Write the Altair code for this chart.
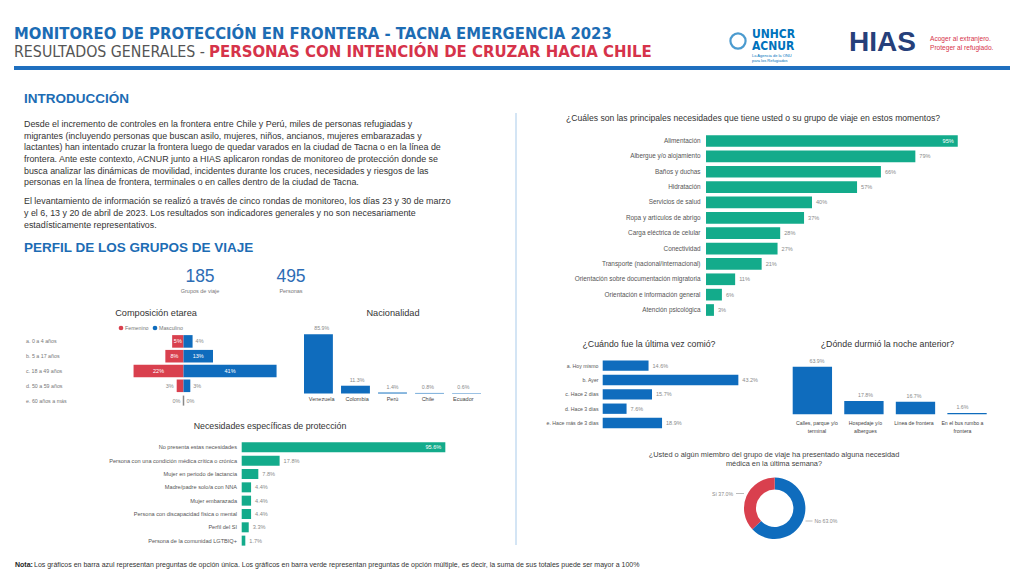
import altair as alt
import pandas as pd

# ---------------- data ----------------
kpi_groups = 185
kpi_persons = 495

age_cats = ["a. 0 a 4 años", "b. 5 a 17 años", "c. 18 a 49 años", "d. 50 a 59 años", "e. 60 años a más"]
age_fem = [5, 8, 22, 3, 0]
age_mas = [4, 13, 41, 3, 0]

nat_cats = ["Venezuela", "Colombia", "Perú", "Chile", "Ecuador"]
nat_vals = [85.9, 11.3, 1.4, 0.8, 0.6]

prot_cats = ["No presenta estas necesidades", "Persona con una condición médica crítica o crónica",
             "Mujer en periodo de lactancia", "Madre/padre solo/a con NNA", "Mujer embarazada",
             "Persona con discapacidad física o mental", "Perfil del SI", "Persona de la comunidad LGTBIQ+"]
prot_vals = [95.6, 17.8, 7.8, 4.4, 4.4, 4.4, 3.3, 1.7]

need_cats = ["Alimentación", "Albergue y/o alojamiento", "Baños y duchas", "Hidratación",
             "Servicios de salud", "Ropa y artículos de abrigo", "Carga eléctrica de celular",
             "Conectividad", "Transporte (nacional/internacional)",
             "Orientación sobre documentación migratoria", "Orientación e información general",
             "Atención psicológica"]
need_vals = [95, 79, 66, 57, 40, 37, 28, 27, 21, 11, 6, 3]

eat_cats = ["a. Hoy mismo", "b. Ayer", "c. Hace 2 días", "d. Hace 3 días", "e. Hace más de 3 días"]
eat_vals = [14.6, 43.2, 15.7, 7.6, 18.9]

sleep_cats = ["Calles, parque y/o terminal", "Hospedaje y/o albergues", "Línea de frontera",
              "En el bus rumbo a frontera"]
sleep_disp = ["Calles, parque y/o\nterminal", "Hospedaje y/o\nalbergues", "Línea de frontera",
              "En el bus rumbo a\nfrontera"]
sleep_vals = [63.9, 17.8, 16.7, 1.6]

med_cats = ["No", "Sí"]
med_vals = [63.0, 37.0]

intro_p1 = ("Desde el incremento de controles en la frontera entre Chile y Perú, miles de personas refugiadas y\n"
            "migrantes (incluyendo personas que buscan asilo, mujeres, niños, ancianos, mujeres embarazadas y\n"
            "lactantes) han intentado cruzar la frontera luego de quedar varados en la ciudad de Tacna o en la línea de\n"
            "frontera. Ante este contexto, ACNUR junto a HIAS aplicaron rondas de monitoreo de protección donde se\n"
            "busca analizar las dinámicas de movilidad, incidentes durante los cruces, necesidades y riesgos de las\n"
            "personas en la línea de frontera, terminales o en calles dentro de la ciudad de Tacna.")
intro_p2 = ("El levantamiento de información se realizó a través de cinco rondas de monitoreo, los días 23 y 30 de marzo\n"
            "y el 6, 13 y 20 de abril de 2023. Los resultados son indicadores generales y no son necesariamente\n"
            "estadísticamente representativos.")

# ---------------- style ----------------
OFF = 8
def X(v):
    return v - OFF
def Y(v):
    return v - OFF

BLUE = "#0f6cbd"
GREEN = "#13ab8b"
RED = "#d9404e"
TBLUE = "#1c6cb4"
FONT = "Liberation Sans, Arial, sans-serif"
NARROW = "Liberation Sans Narrow, Arial Narrow, DejaVu Sans Condensed, sans-serif"

dummy = pd.DataFrame({"d": [0]})
layers = []


def text(s, x, y, size, color="#333333", align="left", weight="normal", font=FONT, baseline="middle", **kw):
    layers.append(
        alt.Chart(dummy).mark_text(text=s, align=align, baseline=baseline, fontSize=size, color=color,
                                   fontWeight=weight, font=font, **kw)
        .encode(x=alt.value(X(x)), y=alt.value(Y(y)))
    )


def rule(x1, y1, x2, y2, color, width):
    layers.append(
        alt.Chart(dummy).mark_rule(color=color, strokeWidth=width)
        .encode(x=alt.value(X(x1)), x2=alt.value(X(x2)), y=alt.value(Y(y1)), y2=alt.value(Y(y2)))
    )


def hbar(cats, vals, labels, x0, ppp, ytop, ybot, pad, color, lab_x, lab_size, val_size, inside_min):
    df = pd.DataFrame({"c": cats, "v": vals, "l": labels})
    ysc = alt.Scale(domain=cats, range=[Y(ytop), Y(ybot)], paddingInner=pad, paddingOuter=pad / 2)
    yenc = alt.Y("c:N", sort=cats, scale=ysc, axis=None)
    xsc = alt.Scale(domain=[0, 100], range=[X(x0), X(x0 + 100 * ppp)], nice=False)
    xenc = alt.X("v:Q", scale=xsc, axis=None)
    base = alt.Chart(df)
    layers.append(base.mark_bar(color=color).encode(x=xenc, y=yenc))
    layers.append(base.mark_text(align="right", baseline="middle", fontSize=lab_size, color="#555555", font=FONT)
                  .encode(x=alt.value(X(lab_x)), y=yenc, text="c:N"))
    layers.append(base.transform_filter(alt.datum.v < inside_min)
                  .mark_text(align="left", baseline="middle", dx=4, fontSize=val_size, color="#8a8a8a", font=FONT)
                  .encode(x=xenc, y=yenc, text="l:N"))
    layers.append(base.transform_filter(alt.datum.v >= inside_min)
                  .mark_text(align="right", baseline="middle", dx=-4, fontSize=val_size, color="white", font=FONT)
                  .encode(x=xenc, y=yenc, text="l:N"))


def vbar(cats, vals, labels, disp, xl, xr, pad, ybase, ppp, color, val_size, cat_size, cat_y):
    df = pd.DataFrame({"c": cats, "v": vals, "l": labels, "t": disp})
    xsc = alt.Scale(domain=cats, range=[X(xl), X(xr)], paddingInner=pad, paddingOuter=0)
    xenc = alt.X("c:N", sort=cats, scale=xsc, axis=None)
    ysc = alt.Scale(domain=[0, 100], range=[Y(ybase), Y(ybase - 100 * ppp)], nice=False)
    yenc = alt.Y("v:Q", scale=ysc, axis=None)
    base = alt.Chart(df)
    layers.append(base.mark_bar(color=color).encode(x=xenc, y=yenc))
    layers.append(base.mark_text(baseline="bottom", dy=-3, fontSize=val_size, color="#8a8a8a", font=FONT)
                  .encode(x=xenc, y=yenc, text="l:N"))
    layers.append(base.mark_text(baseline="top", fontSize=cat_size, color="#444444", font=FONT,
                                 lineBreak="\n", lineHeight=cat_size + 3)
                  .encode(x=xenc, y=alt.value(Y(cat_y)), text="t:N"))


# ---------------- header ----------------
text("MONITOREO DE PROTECCIÓN EN FRONTERA - TACNA EMERGENCIA 2023", 14, 33.5, 16.5, TBLUE, weight="bold", font=NARROW)
text("RESULTADOS GENERALES -", 14, 51.5, 15.8, "#555555", font=NARROW)
text("PERSONAS CON INTENCIÓN DE CRUZAR HACIA CHILE", 209, 51.5, 16.6, "#d6334a", weight="bold", font=NARROW)

# logos as text
layers.append(alt.Chart(dummy).mark_point(shape="circle", filled=False, size=230, strokeWidth=2.2, color="#0072bc")
              .encode(x=alt.value(X(738)), y=alt.value(Y(41))))
text("UNHCR", 752, 33.5, 12, "#0072bc", weight="bold", font=NARROW)
text("ACNUR", 752, 46, 12, "#0072bc", weight="bold", font=NARROW)
text("La Agencia de la ONU", 752, 55.5, 4, "#0072bc")
text("para los Refugiados", 752, 60.5, 4, "#0072bc")
text("HIAS", 849, 43, 28, "#26407a", weight="bold")
text("Acoger al extranjero.", 930, 39, 6.6, "#d6334a")
text("Proteger al refugiado.", 930, 48, 6.6, "#d6334a")

rule(14, 68, 1010, 68, "#1f6fbf", 4)
rule(516, 113, 516, 545, "#a9cbea", 1)

# ---------------- intro ----------------
text("INTRODUCCIÓN", 24, 98.5, 13.5, TBLUE, weight="bold")
layers.append(alt.Chart(dummy).mark_text(text=intro_p1, align="left", baseline="alphabetic", fontSize=8.9,
                                         color="#333333", font=FONT, lineBreak="\n", lineHeight=11.6)
              .encode(x=alt.value(X(24)), y=alt.value(Y(127.3))))
layers.append(alt.Chart(dummy).mark_text(text=intro_p2, align="left", baseline="alphabetic", fontSize=8.9,
                                         color="#333333", font=FONT, lineBreak="\n", lineHeight=11.8)
              .encode(x=alt.value(X(24)), y=alt.value(Y(204.3))))

text("PERFIL DE LOS GRUPOS DE VIAJE", 24, 248, 13.5, TBLUE, weight="bold")

# KPIs
text(str(kpi_groups), 200, 276.5, 17.5, "#2d6db5", align="center")
text("Grupos de viaje", 200, 291, 5.5, "#777777", align="center")
text(str(kpi_persons), 291, 276.5, 17.5, "#2d6db5", align="center")
text("Personas", 291, 291, 5.5, "#777777", align="center")

# ---------------- age pyramid ----------------
text("Composición etarea", 156, 313, 9.2, "#333333", align="center")
layers.append(alt.Chart(dummy).mark_point(filled=True, size=22, color=RED, opacity=1)
              .encode(x=alt.value(X(121)), y=alt.value(Y(328))))
text("Femenino", 125, 328, 5.3, "#777777")
layers.append(alt.Chart(dummy).mark_point(filled=True, size=22, color=BLUE, opacity=1)
              .encode(x=alt.value(X(155)), y=alt.value(Y(328))))
text("Masculino", 159, 328, 5.3, "#777777")

age_df = pd.DataFrame({"c": age_cats, "f": age_fem, "m": age_mas})
age_df["nf"] = -age_df["f"]
age_df["hf"] = -age_df["f"] / 2
age_df["hm"] = age_df["m"] / 2
age_df["lf"] = age_df["f"].astype(str) + "%"
age_df["lm"] = age_df["m"].astype(str) + "%"
age_df["z"] = 0
a_ysc = alt.Scale(domain=age_cats, range=[Y(334), Y(408)], paddingInner=0.15, paddingOuter=0.075)
a_y = alt.Y("c:N", sort=age_cats, scale=a_ysc, axis=None)
a_xsc = alt.Scale(domain=[-30, 50], range=[X(183.5 - 30 * 2.27), X(183.5 + 50 * 2.27)], nice=False)
abase = alt.Chart(age_df)
layers.append(abase.mark_bar(color=RED).encode(x=alt.X("nf:Q", scale=a_xsc, axis=None), y=a_y))
layers.append(abase.mark_bar(color=BLUE).encode(x=alt.X("m:Q", scale=a_xsc, axis=None), y=a_y))
layers.append(abase.transform_filter("datum.f + datum.m == 0")
              .mark_tick(color="#555555", thickness=1.5, size=10)
              .encode(x=alt.X("z:Q", scale=a_xsc, axis=None), y=a_y))
layers.append(abase.mark_text(align="left", baseline="middle", fontSize=5.3, color="#777777", font=FONT)
              .encode(x=alt.value(X(26)), y=a_y, text="c:N"))
layers.append(abase.transform_filter("datum.f >= 5")
              .mark_text(align="center", baseline="middle", fontSize=5.5, color="white", font=FONT)
              .encode(x=alt.X("hf:Q", scale=a_xsc, axis=None), y=a_y, text="lf:N"))
layers.append(abase.transform_filter("datum.f < 5")
              .mark_text(align="right", baseline="middle", dx=-3, fontSize=5.5, color="#8a8a8a", font=FONT)
              .encode(x=alt.X("nf:Q", scale=a_xsc, axis=None), y=a_y, text="lf:N"))
layers.append(abase.transform_filter("datum.m >= 5")
              .mark_text(align="center", baseline="middle", fontSize=5.5, color="white", font=FONT)
              .encode(x=alt.X("hm:Q", scale=a_xsc, axis=None), y=a_y, text="lm:N"))
layers.append(abase.transform_filter("datum.m < 5")
              .mark_text(align="left", baseline="middle", dx=3, fontSize=5.5, color="#8a8a8a", font=FONT)
              .encode(x=alt.X("m:Q", scale=a_xsc, axis=None), y=a_y, text="lm:N"))

# ---------------- nationality ----------------
text("Nacionalidad", 393, 313, 9.2, "#333333", align="center")
vbar(nat_cats, nat_vals, [f"{v:.1f}%" for v in nat_vals], nat_cats, 304, 481, 0.22, 393.5, 0.689,
     BLUE, 5.3, 5.5, 396.5)

# ---------------- protection needs ----------------
text("Necesidades específicas de protección", 270, 426, 8.8, "#333333", align="center")
hbar(prot_cats, prot_vals, [f"{v:.1f}%" for v in prot_vals], 241.7, 2.13, 440.7, 547.3, 0.25, GREEN,
     237, 5.6, 5.6, 50)

# ---------------- main needs ----------------
text("¿Cuáles son las principales necesidades que tiene usted o su grupo de viaje en estos momentos?",
     566, 117.5, 8.6, "#333333")
hbar(need_cats, need_vals, [f"{v}%" for v in need_vals], 706, 2.65, 133.3, 317.7, 0.24, GREEN,
     700.5, 6.4, 5.6, 90)

# ---------------- last meal ----------------
text("¿Cuándo fue la última vez comió?", 649, 343.5, 8.8, "#333333", align="center")
hbar(eat_cats, eat_vals, [f"{v:.1f}%" for v in eat_vals], 602.7, 3.14, 358.5, 430.2, 0.28, BLUE,
     598.5, 5.2, 5.5, 200)

# ---------------- where slept ----------------
text("¿Dónde durmió la noche anterior?", 887.5, 344, 8.8, "#333333", align="center")
vbar(sleep_cats, sleep_vals, [f"{v:.1f}%" for v in sleep_vals], sleep_disp, 792.7, 986.7, 0.237, 414.3,
     0.745, BLUE, 5.3, 5.2, 420.5)

# ---------------- medical donut ----------------
text("¿Usted o algún miembro del grupo de viaje ha presentado alguna necesidad\nmédica en la última semana?",
     774, 455, 7.4, "#444444", align="center", lineBreak="\n", lineHeight=8.6)
med_df = pd.DataFrame({"c": med_cats, "v": med_vals, "o": list(range(len(med_cats)))})
layers.append(alt.Chart(med_df).mark_arc(innerRadius=18.7, outerRadius=30.7)
              .encode(theta=alt.Theta("v:Q", stack=True),
                      color=alt.Color("c:N", scale=alt.Scale(domain=med_cats, range=[BLUE, RED]), legend=None),
                      order=alt.Order("o:Q"),
                      x=alt.value(X(774.7)), y=alt.value(Y(508.3))))
rule(736, 493.5, 744, 493.5, "#aaaaaa", 0.8)
text(f"{med_cats[1]} {med_vals[1]:.1f}%", 733, 493.5, 5.2, "#8a8a8a", align="right")
rule(805.5, 521, 812.5, 521, "#aaaaaa", 0.8)
text(f"{med_cats[0]} {med_vals[0]:.1f}%", 814.5, 521, 5.2, "#8a8a8a")

# ---------------- footer ----------------
text("Nota:", 15, 565, 7, "#222222", weight="bold")
text("Los gráficos en barra azul representan preguntas de opción única. Los gráficos en barra verde representan "
     "preguntas de opción múltiple, es decir, la suma de sus totales puede ser mayor a 100%",
     34, 565, 7, "#333333")

chart = (
    alt.layer(*layers)
    .resolve_scale(x="independent", y="independent")
    .properties(width=1008, height=571, autosize=alt.AutoSizeParams(type="none"), padding=0)
    .configure_view(stroke=None)
)
chart.save("out.html", embed_options={"renderer": "svg", "actions": False})
